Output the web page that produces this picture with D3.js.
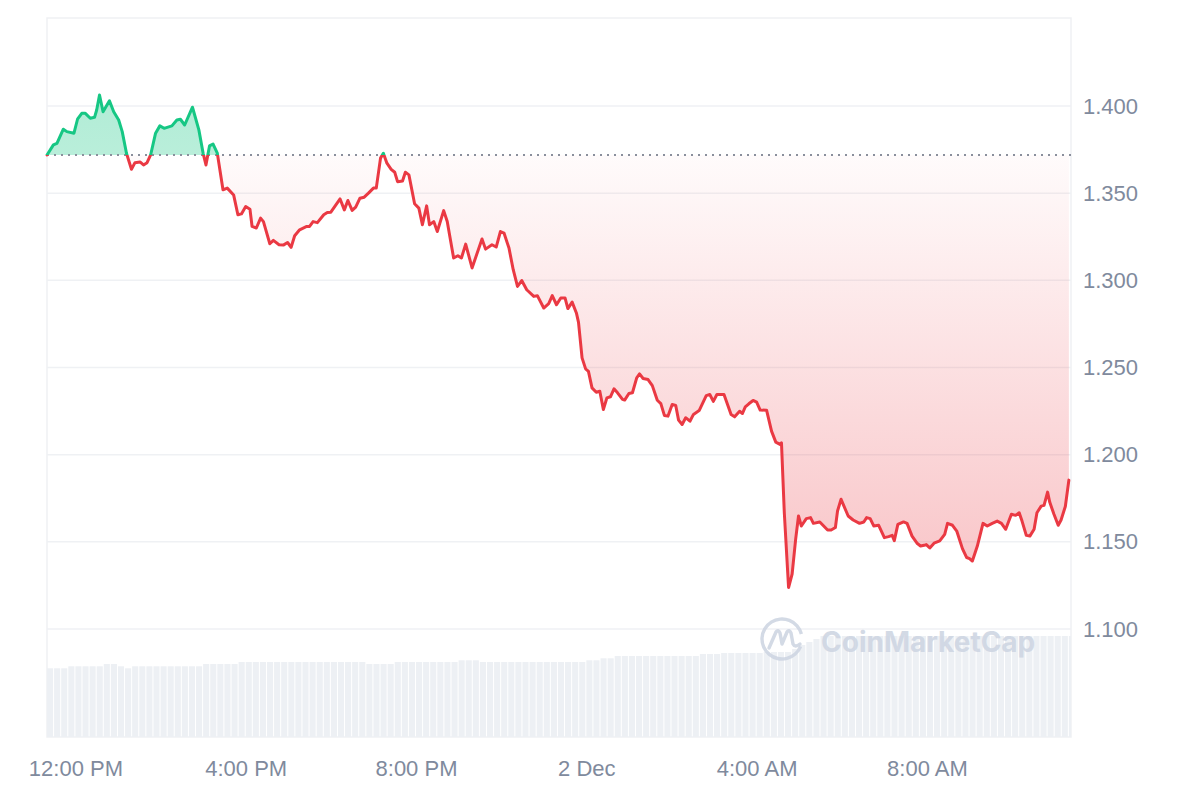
<!DOCTYPE html>
<html>
<head>
<meta charset="utf-8">
<script src="https://cdn.jsdelivr.net/npm/d3@7/dist/d3.min.js"></script>
<style>
  html, body { margin: 0; padding: 0; background: #ffffff; }
  svg { display: block; font-family: "Liberation Sans", Arial, sans-serif; }
</style>
</head>
<body>
<svg id="chart" width="1200" height="800"></svg>
<script>
// ---- Data (minutes after 12:00 PM, 1 Dec) ----
const minutes = [-40,-31,-26,-17,-12,-2,3,9,14,21,27,30,34,39,48,54,61,66,72,79,84,91,96,101,106,113,119,125,136,143,148,154,165,174,180,184,189,194,200,208,214,223,229,234,240,246,249,255,261,265,274,279,287,293,299,304,309,316,326,330,335,341,350,355,360,373,379,384,390,395,401,407,413,420,424,430,434,439,445,450,454,461,465,470,478,484,489,495,499,505,510,519,524,533,539,544,550,559,573,578,587,593,599,604,611,617,623,629,636,646,651,660,667,672,678,684,690,694,700,706,709,714,719,723,728,734,739,744,749,754,759,764,771,774,780,785,791,795,800,807,813,820,825,830,835,841,846,850,855,860,866,871,879,889,894,899,904,914,919,924,929,936,940,944,949,955,960,965,974,981,987,993,995,999,1005,1010,1015,1019,1023,1030,1036,1040,1049,1060,1065,1071,1074,1079,1089,1096,1105,1111,1115,1120,1125,1132,1140,1146,1151,1154,1159,1167,1172,1179,1186,1191,1196,1199,1204,1210,1218,1225,1229,1236,1242,1250,1256,1260,1264,1271,1279,1285,1292,1299,1305,1311,1319,1325,1330,1334,1340,1345,1351,1355,1361,1365,1370,1373,1379,1385,1389,1395,1400];
const prices = [1.3719,1.3777,1.3786,1.3867,1.3853,1.3844,1.3924,1.3958,1.3958,1.3930,1.3935,1.3977,1.4063,1.3967,1.4030,1.3967,1.3920,1.3853,1.3729,1.3637,1.3675,1.3679,1.3662,1.3675,1.3719,1.3844,1.3886,1.3872,1.3886,1.3920,1.3924,1.3891,1.3993,1.3863,1.3729,1.3662,1.3771,1.3782,1.3729,1.3519,1.3529,1.3490,1.3376,1.3381,1.3423,1.3408,1.3309,1.3300,1.3357,1.3337,1.3210,1.3229,1.3204,1.3202,1.3217,1.3189,1.3256,1.3290,1.3309,1.3309,1.3337,1.3331,1.3376,1.3389,1.3391,1.3467,1.3404,1.3458,1.3401,1.3420,1.3471,1.3477,1.3500,1.3529,1.3529,1.3701,1.3729,1.3672,1.3637,1.3620,1.3566,1.3570,1.3620,1.3605,1.3439,1.3414,1.3319,1.3427,1.3319,1.3337,1.3280,1.3400,1.3337,1.3128,1.3141,1.3128,1.3208,1.3071,1.3237,1.3179,1.3204,1.3191,1.3280,1.3271,1.3185,1.3061,1.2965,1.2999,1.2946,1.2908,1.2912,1.2841,1.2866,1.2912,1.2860,1.2899,1.2899,1.2838,1.2875,1.2813,1.2759,1.2555,1.2492,1.2478,1.2383,1.2358,1.2364,1.2259,1.2326,1.2332,1.2378,1.2355,1.2317,1.2313,1.2351,1.2355,1.2441,1.2463,1.2437,1.2431,1.2396,1.2312,1.2293,1.2225,1.2221,1.2288,1.2282,1.2198,1.2173,1.2212,1.2192,1.2231,1.2253,1.2339,1.2345,1.2306,1.2345,1.2345,1.2288,1.2230,1.2217,1.2249,1.2236,1.2274,1.2292,1.2311,1.2301,1.2256,1.2255,1.2135,1.2072,1.2059,1.2068,1.1667,1.1238,1.1315,1.1515,1.1648,1.1591,1.1633,1.1639,1.1606,1.1614,1.1568,1.1568,1.1582,1.1677,1.1744,1.1648,1.1625,1.1606,1.1614,1.1639,1.1633,1.1591,1.1595,1.1524,1.1530,1.1537,1.1507,1.1600,1.1614,1.1606,1.1533,1.1492,1.1476,1.1480,1.1484,1.1465,1.1492,1.1505,1.1543,1.1606,1.1595,1.1562,1.1461,1.1410,1.1404,1.1390,1.1476,1.1606,1.1591,1.1606,1.1619,1.1606,1.1572,1.1658,1.1652,1.1667,1.1619,1.1537,1.1533,1.1572,1.1667,1.1705,1.1709,1.1785,1.1728,1.1658,1.1595,1.1625,1.1703,1.1854];

// volume bars, one every 10 minutes starting at -40 min
const volumeStart = -40;
const volumeStep = 10;
const volumes = [687,687,687,707,707,707,707,707,730,730,707,687,707,707,707,707,707,707,707,707,707,707,730,730,730,730,730,750,750,750,750,750,750,750,750,750,750,750,750,750,750,750,750,750,750,730,730,730,730,750,750,750,750,750,750,750,750,750,767,767,767,750,750,750,750,750,750,750,750,750,750,750,750,750,750,750,767,767,787,787,810,810,810,810,810,810,810,810,810,810,810,810,830,830,830,840,840,840,840,840,840,850,850,850,850,880,920,950,980,1010,1010,1010,1010,1010,1010,1010,1010,1010,1010,1010,1010,1010,1010,1010,1010,1010,1010,1010,1010,1010,1010,1010,1010,1010,1010,1010,1010,1010,1010,1010,1010,1010,1010,1010,1010];

const yTicks = [1.1, 1.15, 1.2, 1.25, 1.3, 1.35, 1.4];
const xTickMinutes = [0, 240, 480, 720, 960, 1200];
const xTickLabels = ["12:00 PM", "4:00 PM", "8:00 PM", "2 Dec", "4:00 AM", "8:00 AM"];

(function () {
const base = new Date(2024, 11, 1, 12, 0, 0);
const toDate = m => new Date(base.getTime() + m * 60000);
const data = minutes.map((m, i) => ({ t: toDate(m), v: prices[i] }));
const baseline = prices[0];

const pL = 47, pR = 1071, pT = 18, pB = 737;
const svg = d3.select("#chart");

const x = d3.scaleTime().domain([toDate(-40), toDate(1403)]).range([pL, pR]);
const y = d3.scaleLinear().domain([1.1, 1.4]).range([629, 106]);
const yVol = d3.scaleLinear().domain([0, 1010]).range([pB, 636]);

const GREEN = "#16c784", RED = "#ea3943";
const by = y(baseline);

const defs = svg.append("defs");
defs.append("clipPath").attr("id", "plotClip").append("rect")
  .attr("x", pL).attr("y", pT).attr("width", pR - pL).attr("height", pB - pT);
defs.append("clipPath").attr("id", "aboveClip").append("rect")
  .attr("x", pL - 5).attr("y", 0).attr("width", pR - pL + 10).attr("height", by);
defs.append("clipPath").attr("id", "belowClip").append("rect")
  .attr("x", pL - 5).attr("y", by).attr("width", pR - pL + 10).attr("height", 800 - by);

const minY = y(d3.min(prices));
const redGrad = defs.append("linearGradient").attr("id", "redGrad")
  .attr("gradientUnits", "userSpaceOnUse").attr("x1", 0).attr("x2", 0).attr("y1", by).attr("y2", minY);
redGrad.append("stop").attr("offset", 0).attr("stop-color", RED).attr("stop-opacity", 0.02);
redGrad.append("stop").attr("offset", 1).attr("stop-color", RED).attr("stop-opacity", 0.3);
const greenGrad = defs.append("linearGradient").attr("id", "greenGrad")
  .attr("gradientUnits", "userSpaceOnUse").attr("x1", 0).attr("x2", 0).attr("y1", y(1.41)).attr("y2", by);
greenGrad.append("stop").attr("offset", 0).attr("stop-color", GREEN).attr("stop-opacity", 0.34);
greenGrad.append("stop").attr("offset", 1).attr("stop-color", GREEN).attr("stop-opacity", 0.3);

// frame
svg.append("rect").attr("x", pL).attr("y", pT).attr("width", pR - pL).attr("height", pB - pT)
  .attr("fill", "none").attr("stroke", "#eff1f4").attr("stroke-width", 1.5);

// gridlines
svg.append("g").selectAll("line").data(yTicks).join("line")
  .attr("x1", pL).attr("x2", pR)
  .attr("y1", d => y(d)).attr("y2", d => y(d))
  .attr("stroke", "#eff1f4").attr("stroke-width", 1.5);

// volume bars
const stepPx = x(toDate(volumeStep)) - x(toDate(0));
svg.append("g").attr("clip-path", "url(#plotClip)").selectAll("rect").data(volumes).join("rect")
  .attr("x", (d, i) => x(toDate(volumeStart + i * volumeStep)))
  .attr("width", stepPx - 1)
  .attr("y", d => yVol(d))
  .attr("height", d => pB - yVol(d))
  .attr("fill", "#edf0f4");

// watermark
const wm = svg.append("g").attr("opacity", 0.9);
const cx = 782, cy = 639, r = 20;
const arc = d3.arc().innerRadius(r - 1.7).outerRadius(r + 1.7)
  .startAngle(Math.PI * 0.62).endAngle(Math.PI * 2.42);
wm.append("path").attr("transform", `translate(${cx},${cy})`).attr("d", arc()).attr("fill", "#cfd6e3");
wm.append("path")
  .attr("d", `M${cx-13},${cy+9} L${cx-6},${cy-7} Q${cx-4},${cy-10} ${cx-2},${cy-6} L${cx},${cy+5} L${cx+5},${cy-7} Q${cx+7},${cy-10} ${cx+9},${cy-6} L${cx+11},${cy+5} Q${cx+13},${cy+9} ${cx+18},${cy+5}`)
  .attr("fill", "none").attr("stroke", "#cfd6e3").attr("stroke-width", 3.4)
  .attr("stroke-linecap", "round").attr("stroke-linejoin", "round");
wm.append("text").attr("x", 821).attr("y", 652)
  .attr("font-family", "Inter, 'Open Sans', sans-serif").attr("font-weight", 700)
  .attr("font-size", 28).attr("fill", "#cfd6e3").text("CoinMarketCap");

// areas
const area = d3.area().x(d => x(d.t)).y0(by).y1(d => y(d.v));
svg.append("path").datum(data).attr("d", area).attr("clip-path", "url(#aboveClip)").attr("fill", "url(#greenGrad)");
svg.append("path").datum(data).attr("d", area).attr("clip-path", "url(#belowClip)").attr("fill", "url(#redGrad)");

// baseline dotted
svg.append("line").attr("x1", pL).attr("x2", pR).attr("y1", by).attr("y2", by)
  .attr("stroke", "#8a8f9c").attr("stroke-width", 2).attr("stroke-dasharray", "2,5");

// lines
const line = d3.line().x(d => x(d.t)).y(d => y(d.v));
svg.append("path").datum(data).attr("d", line).attr("clip-path", "url(#aboveClip)")
  .attr("fill", "none").attr("stroke", GREEN).attr("stroke-width", 3)
  .attr("stroke-linejoin", "round").attr("stroke-linecap", "round");
svg.append("path").datum(data).attr("d", line).attr("clip-path", "url(#belowClip)")
  .attr("fill", "none").attr("stroke", RED).attr("stroke-width", 3)
  .attr("stroke-linejoin", "round").attr("stroke-linecap", "round");

// axes
const TEXT = "#808a9d";
const yAxis = svg.append("g").attr("transform", `translate(${pR},0)`)
  .call(d3.axisRight(y).tickValues(yTicks).tickFormat(d3.format(".3f")).tickSize(0).tickPadding(12));
yAxis.select(".domain").remove();
yAxis.selectAll("text").attr("font-size", 22).attr("fill", TEXT).attr("font-family", "'Liberation Sans', Arial, sans-serif");

const xAxis = svg.append("g").attr("transform", `translate(0,${pB})`)
  .call(d3.axisBottom(x).tickValues(xTickMinutes.map(toDate)).tickFormat((d, i) => xTickLabels[i]).tickSize(0).tickPadding(23));
xAxis.select(".domain").remove();
xAxis.selectAll("text").attr("font-size", 22).attr("fill", TEXT).attr("font-family", "'Liberation Sans', Arial, sans-serif");
})();
</script>
</body>
</html>
